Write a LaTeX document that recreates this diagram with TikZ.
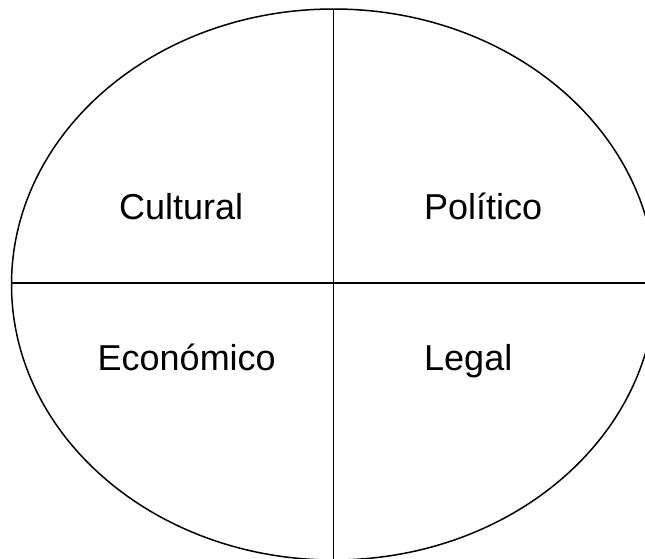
\documentclass[tikz,border=0pt]{standalone}
\usepackage{fontspec}
\setmainfont{Liberation Sans}
\begin{document}
\begin{tikzpicture}[x=1pt,y=-1pt,
  outline/.style={line width=1.5pt,black},
  label/.style={font=\fontsize{36}{40}\selectfont,inner sep=0pt,anchor=base west}]
\useasboundingbox (0,0) rectangle (645,558);
\clip (0,0) rectangle (645,558);
\draw[outline] (333.5,284.5) ellipse [x radius=322, y radius=275.5];
\coordinate (top) at (333.5,9);
\coordinate (bottom) at (333.5,560);
\coordinate (left) at (11.5,283);
\coordinate (right) at (650,283);
\draw[outline] (top) -- (bottom);
\draw[outline] (left) -- (right);
\node[label] (cultural) at (119,219) {Cultural};
\node[label] (politico) at (424,219) {Político};
\node[label] (economico) at (97.5,370) {Económico};
\node[label] (legal) at (424,370) {Legal};
\end{tikzpicture}
\end{document}
